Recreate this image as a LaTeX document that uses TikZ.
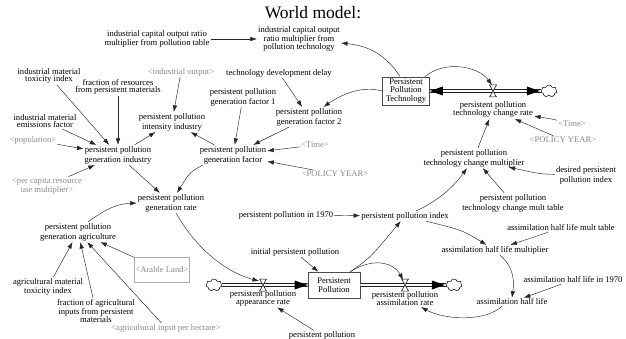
\documentclass[tikz,border=0pt]{standalone}
\usepackage{fontspec}
\newfontfamily\vfont{Liberation Serif}
\newfontfamily\tfont{Liberation Serif}
\usetikzlibrary{arrows.meta,shapes.symbols,calc}
\definecolor{vgray}{RGB}{138,138,138}
\begin{document}
\begin{tikzpicture}[x=1pt,y=-1pt,
  every node/.style={align=center,inner sep=1pt,font=\vfont\fontsize{8.6}{7.6}\selectfont},
  tight/.style={font=\vfont\fontsize{8.6}{7.6}\selectfont},
  loose/.style={font=\vfont\fontsize{8.6}{10}\selectfont},
  ghost/.style={text=vgray},
  stock/.style={draw=black!70,line width=0.7pt,fill=white,minimum height=26pt,inner sep=1.5pt,font=\vfont\fontsize{8.6}{8.8}\selectfont},
  info/.style={draw=black!85,line width=0.45pt,-{Latex[length=6.5pt,width=4.5pt]}},
  pipe/.style={draw=black,double=white,double distance=2.4pt,line width=0.6pt},
  sink/.style={cloud,cloud puffs=7,draw,line width=0.5pt,minimum width=16pt,minimum height=12pt,inner sep=0pt,fill=white},
  vvalve/.pic={\draw[fill=white,line width=0.5pt] (-3.5,-6) -- (3.5,-6) -- (-3.5,6) -- (3.5,6) -- cycle;}
]
\useasboundingbox (0,0) rectangle (626,339);
\fill[white] (0,0) rectangle (626,339);

% title
\node[font=\tfont\fontsize{17.5}{17.5}\selectfont] (title) at (313,13) {World model:};

% top area
\node (icormt) at (157,39) {industrial capital output ratio\\multiplier from pollution table};
\node (icorm) at (299,39) {industrial capital output\\ratio multiplier from\\pollution technology};
\node[stock,minimum width=47pt] (ppt) at (406,91) {Persistent\\Pollution\\Technology};
\node[sink] (cl1) at (549,91) {};
\coordinate (v1) at (493,91);
\coordinate (v1t) at (492,85);
\node[tight] (pptcr) at (493,109.5) {persistent pollution\\technology change rate};
\node[ghost] (time1) at (572,124) {<Time>};
\node[ghost] (pyear1) at (563,140) {<POLICY YEAR>};
\node[loose] (pptcm) at (474,158) {persistent pollution\\technology change multiplier};
\node[loose] (dppi) at (586,175) {desired persistent\\pollution index};
\node[loose] (pptcmt) at (513,203) {persistent pollution\\technology change mult table};

% left upper
\node (imti) at (49,76) {industrial material\\toxicity index};
\node (frpm) at (118,87) {fraction of resources\\from persistent materials};
\node[ghost] (iout) at (181,72) {<industrial output>};
\node (tdd) at (279,73) {technology development delay};
\node[loose] (ppgf1) at (243,97) {persistent pollution\\generation factor 1};
\node[loose] (ppgf2) at (309,117) {persistent pollution\\generation factor 2};
\node[loose] (ppii) at (172,122) {persistent pollution\\intensity industry};
\node (imef) at (45,121) {industrial material\\emissions factor};
\node[ghost] (popu) at (33,140) {<population>};
\node[loose] (ppgi) at (118,155) {persistent pollution\\generation industry};
\node[loose] (ppgf) at (233,155) {persistent pollution\\generation factor};
\node[ghost] (time2) at (315,145) {<Time>};
\node[ghost] (pyear2) at (335,174) {<POLICY YEAR>};
\node[ghost] (pcrum) at (47,186) {<per capita resource\\use multiplier>};
\node[loose] (ppgr) at (171,203) {persistent pollution\\generation rate};

% left lower
\node[loose] (ppga) at (78,232) {persistent pollution\\generation agriculture};
\node[ghost,draw=vgray!70,line width=0.6pt,minimum width=52pt,minimum height=25pt] (arable) at (162,270) {<Arable Land>};
\node[loose,font=\vfont\fontsize{8.6}{9}\selectfont] (amti) at (48,287) {agricultural material\\toxicity index};
\node (faip) at (96,311) {fraction of agricultural\\inputs from persistent\\materials};
\node[ghost] (aiph) at (166,328) {<agricultural input per hectare>};

% bottom middle
\node (pp1970) at (286,215) {persistent pollution in 1970};
\node (ppi) at (405,216) {persistent pollution index};
\node (ipp) at (295,252) {initial persistent pollution};
\node[stock,minimum width=52pt,font=\vfont\fontsize{8.6}{9.3}\selectfont] (pp) at (334,285) {Persistent\\Pollution};
\node[sink] (cl2) at (214,285) {};
\node[sink] (cl3) at (454,285) {};
\coordinate (v2) at (263,285);
\coordinate (v2t) at (259,281);
\coordinate (v3) at (405,285);
\coordinate (v3t) at (403,280);
\node[tight] (ppar) at (263,298.5) {persistent pollution\\appearance rate};
\node[tight] (ppasr) at (405,298.5) {persistent pollution\\assimilation rate};
\node (pptd) at (322,335.5) {persistent pollution};

% right lower
\node (ahlmt) at (561,228) {assimilation half life mult table};
\node (ahlm) at (495,250) {assimilation half life multiplier};
\node (ahl1970) at (573,280) {assimilation half life in 1970};
\node (ahl) at (512,302) {assimilation half life};

% flows
\draw[pipe] (ppt.east) -- (cl1.west);
\fill ($(cl1.west)+(-1,0)$) -- ++(-13,-4.5) -- ++(0,9) -- cycle;
\fill (ppt.east) -- ++(13,-4.5) -- ++(0,9) -- cycle;
\pic at (v1) {vvalve};
\draw[pipe] (cl2.east) -- (pp.west);
\fill (pp.west) -- ++(-13,-4.5) -- ++(0,9) -- cycle;
\pic at (v2) {vvalve};
\draw[pipe] (pp.east) -- (cl3.west);
\fill ($(cl3.west)+(-1,0)$) -- ++(-13,-4.5) -- ++(0,9) -- cycle;
\pic at (v3) {vvalve};

% information links
\draw[info] (icormt) -- (icorm);
\draw[info] ($(ppt.north)+(-6,0)$) .. controls (388,58) and (372,46) .. (icorm);
\draw[info] (ppt.west) .. controls (365,86) and (345,92) .. (ppgf2);
\draw[info] ($(ppt.north east)+(-5,0)$) .. controls (445,60) and (478,66) .. (v1t);
\draw[info] (time1) .. controls (552,119) .. (pptcr);
\draw[info] (pyear1) -- (pptcr);
\draw[info] (pptcm) -- (pptcr);
\draw[info] (dppi) .. controls (540,174) .. ($(pptcm.south east)+(-17,-1)$);
\draw[info] (pptcmt) -- (pptcm);
\draw[info] (ppi) .. controls (440,200) and (455,185) .. (pptcm);
\draw[info] (pp1970) -- (ppi);
\draw[info] (ppi) .. controls (462,230) .. (ahlm);
\draw[info] (ahlmt) -- (ahlm);
\draw[info] ($(ahlm.south)+(5,0)$) .. controls (515,268) and (514,283) .. (ahl.north);
\draw[info] (ahl1970) -- (ahl);
\draw[info] ($(ahl.south)+(-10,0)$) .. controls (485,322) and (445,320) .. (ppasr);
\draw[info] ($(pp.north east)+(-10,0)$) .. controls (370,258) .. (ppi);
\draw[info] ($(pp.north east)+(-10,0)$) .. controls (375,256) and (395,264) .. (v3t);
\draw[info] (ipp) -- (pp);
\draw[info] (pptd) -- (ppar);
\draw[info] ($(ppgr.south)+(5,0)$) .. controls (200,255) and (232,274) .. (v2t);

\draw[info] (imti) -- (ppgi);
\draw[info] (frpm) -- (ppgi);
\draw[info] (imef) -- (ppgi);
\draw[info] (popu) -- (ppgi);
\draw[info] (pcrum) -- (ppgi);
\draw[info] (iout) -- (ppii);
\draw[info] (ppgi) -- (ppii);
\draw[info] (ppgf) -- (ppii);
\draw[info] (ppgf1) -- (ppgf);
\draw[info] (tdd) -- (ppgf2);
\draw[info] (ppgf2) -- (ppgf);
\draw[info] (time2) -- (ppgf);
\draw[info] (pyear2) -- (ppgf);
\draw[info] (ppgi) -- (ppgr);
\draw[info] ($(ppgf.south west)+(4,0)$) .. controls (190,172) .. ($(ppgr.north)+(6,0)$);
\draw[info] ($(ppga.north)+(10,0)$) .. controls (105,210) and (115,204) .. (ppgr.west);
\draw[info] (arable) -- (ppga);
\draw[info] (amti) -- (ppga);
\draw[info] (faip) -- (ppga);
\draw[info] (aiph) -- (ppga);
\end{tikzpicture}
\end{document}
